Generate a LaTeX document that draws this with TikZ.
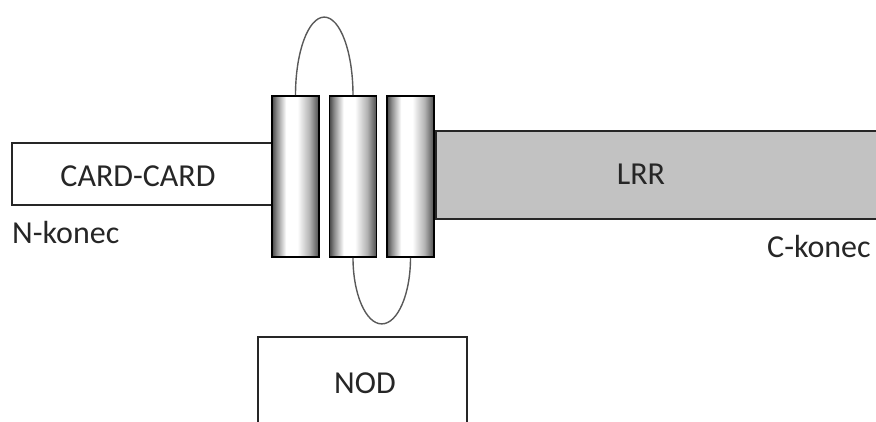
\documentclass[tikz,border=0pt]{standalone}
\usepackage{fontspec}
\setmainfont{Carlito}
\usetikzlibrary{calc}
\pgfdeclarehorizontalshading{cylshade}{100bp}{color(0bp)=(black!72); color(25bp)=(black!72); color(30bp)=(black!45); color(40bp)=(white); color(52bp)=(white); color(65bp)=(black!30); color(75bp)=(black!70); color(100bp)=(black!70)}
\tikzset{
  box/.style={draw=black!85, line width=1.8pt, rectangle, inner sep=0pt},
  cyl/.style={draw=black, line width=1.8pt, rectangle, inner sep=0pt, shading=cylshade, minimum width=47pt, minimum height=161pt},
  loop/.style={draw=black!65, line width=1.4pt},
  lbl/.style={font=\fontsize{32}{38}\selectfont, text=black!85, inner sep=0pt}
}
\begin{document}
\begin{tikzpicture}[x=1pt,y=-1pt]
\useasboundingbox (0,0) rectangle (876,421);
% boxes
\node[box, fill=white, minimum width=260pt, minimum height=62pt] (card) at (142,174) {};
\node[box, fill=black!24, minimum width=448pt, minimum height=88pt] (lrr) at (660,175) {};
\node[box, fill=white, minimum width=209pt, minimum height=100pt] (nod) at (362.5,387) {};
% cylinders
\node[cyl] (c1) at (295.5,176.5) {};
\node[cyl] (c2) at (353,176.5) {};
\node[cyl] (c3) at (410.5,176.5) {};
% loops (half ellipses)
\coordinate (t) at ($(c1.north)!0.5!(c2.north)+(0,-78)$);
\coordinate (b) at ($(c2.south)!0.5!(c3.south)+(0,66)$);
\draw[loop] (c1.north) .. controls +(0,-43) and +(-16,0) .. (t)
                       .. controls +(16,0) and +(0,-43) .. (c2.north);
\draw[loop] (c2.south) .. controls +(0,36) and +(-16,0) .. (b)
                       .. controls +(16,0) and +(0,36) .. (c3.south);
% texts
\node[lbl, anchor=base] (cardt) at (138,186) {CARD-CARD};
\node[lbl, anchor=base] (lrrt) at (641,184) {LRR};
\node[lbl, anchor=base] (nodt) at (365,393) {NOD};
\node[lbl, anchor=base west] (nk) at (12,243) {N-konec};
\node[lbl, anchor=base west] (ck) at (767,257) {C-konec};
\end{tikzpicture}
\end{document}
